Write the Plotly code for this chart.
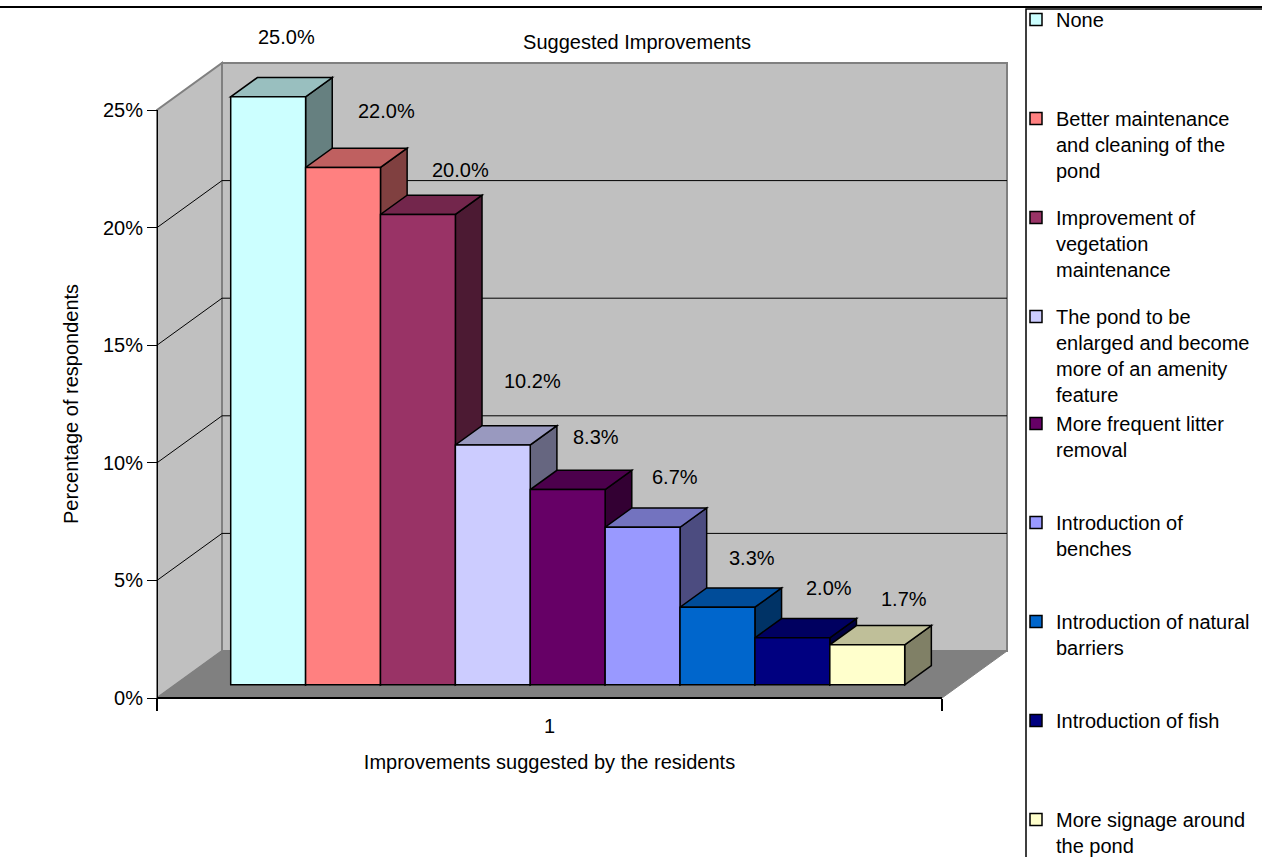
import plotly.graph_objects as go

# ---------------- data ----------------
category = ["1"]
series_names = [
    "None",
    "Better maintenance and cleaning of the pond",
    "Improvement of vegetation maintenance",
    "The pond to be enlarged and become more of an amenity feature",
    "More frequent litter removal",
    "Introduction of benches",
    "Introduction of natural barriers",
    "Introduction of fish",
    "More signage around the pond",
]
legend_text = [
    "None",
    "Better maintenance<br>and cleaning of the<br>pond",
    "Improvement of<br>vegetation<br>maintenance",
    "The pond to be<br>enlarged and become<br>more of an amenity<br>feature",
    "More frequent litter<br>removal",
    "Introduction of<br>benches",
    "Introduction of natural<br>barriers",
    "Introduction of fish",
    "More signage around<br>the pond",
]
values = [25.0, 22.0, 20.0, 10.2, 8.3, 6.7, 3.3, 2.0, 1.7]
y_tick_vals = [0, 5, 10, 15, 20, 25]
y_tick_text = ["0%", "5%", "10%", "15%", "20%", "25%"]
title_text = "Suggested Improvements"
x_title = "Improvements suggested by the residents"
y_title = "Percentage of respondents"

# ---------------- style ----------------
face_colors = ["#CCFFFF", "#FF8080", "#993366", "#CCCCFF", "#660066",
               "#9999FF", "#0066CC", "#000080", "#FFFFCC"]
legend_groups = ["g0", "g1", "g2", "g3", "g3", "g5", "g6", "g7", "g8"]
legend_lines = [3, 3, 3, 4, 3, 3, 3, 3, 2]
# label offsets (px) from the bar's front-top centre
label_shift = [(18, 60), (43, 56), (43, 44), (40, 64), (28, 53),
               (32, 50), (35, 49), (37, 50), (37, 46)]

W, H = 1262, 857
FONT = "Liberation Sans, Arial, sans-serif"
FS = 20
FX0, FY0 = 157.0, 698.0      # front-left-bottom corner of the floor (px)
FLEN = 785.0                 # front axis length (px)
S = 23.52                    # px per 1 %
DX, DY = 65.0, -47.0         # full depth vector (px, screen)
BAR_FRONT = 0.28             # depth fraction where bars begin
BAR_DEPTH = 0.41             # depth fraction of the bars
BARGAP = 0.1414
YMAX = y_tick_vals[-1]


def shade(hexcol, f):
    h = hexcol.lstrip("#")
    r, g, b = (int(h[i:i + 2], 16) for i in (0, 2, 4))
    return "#%02X%02X%02X" % (round(r * f), round(g * f), round(b * f))


def P(x, y):
    return x / W, 1 - y / H


def ppath(pts):
    s = ""
    for k, (x, y) in enumerate(pts):
        px, py = P(x, y)
        s += ("M" if k == 0 else "L") + f"{px:.5f},{py:.5f} "
    return s + "Z"


# bar-plane geometry (hidden full-frame axes x2/y2)
bx0 = FX0 + BAR_FRONT * DX
by0 = FY0 + BAR_FRONT * DY
cx = bx0 + FLEN / 2
x2_range = [(0 - cx) / FLEN, (W - cx) / FLEN]
y2_range = [(by0 - H) / S, by0 / S]
ddx = BAR_DEPTH * DX / FLEN
ddy = -BAR_DEPTH * DY / S

n = len(values)
gw = 1 - BARGAP
bw = gw / n

fig = go.Figure()

# dummy trace so the front category axis shows its tick
fig.add_trace(go.Scatter(x=category, y=[0], mode="markers",
                         marker=dict(opacity=0), showlegend=False,
                         hoverinfo="skip", xaxis="x", yaxis="y"))

for i, v in enumerate(values):
    txt = legend_text[i]
    pad = legend_lines[i] - (txt.count("<br>") + 1)
    txt = txt + "<br>\u00a0" * max(pad, 0)
    fig.add_trace(go.Bar(
        x=category, y=[v], name=txt, legendgroup=legend_groups[i],
        marker=dict(color=face_colors[i], line=dict(color="black", width=1.5)),
        xaxis="x2", yaxis="y2", hovertext=series_names[i], hoverinfo="text+y",
    ))

shapes = []
# walls and floor
top = FY0 - YMAX * S
shapes.append(dict(type="path", xref="paper", yref="paper", layer="below",
                   path=ppath([(FX0, FY0), (FX0 + DX, FY0 + DY), (FX0 + DX, top + DY), (FX0, top)]),
                   fillcolor="#C0C0C0", line=dict(color="#808080", width=2)))
shapes.append(dict(type="path", xref="paper", yref="paper", layer="below",
                   path=ppath([(FX0 + DX, FY0 + DY), (FX0 + DX + FLEN, FY0 + DY),
                               (FX0 + DX + FLEN, top + DY), (FX0 + DX, top + DY)]),
                   fillcolor="#C0C0C0", line=dict(color="#808080", width=2)))
shapes.append(dict(type="path", xref="paper", yref="paper", layer="below",
                   path=ppath([(FX0, FY0), (FX0 + FLEN, FY0), (FX0 + FLEN + DX, FY0 + DY), (FX0 + DX, FY0 + DY)]),
                   fillcolor="#808080", line=dict(color="#808080", width=1)))
for t in y_tick_vals[1:-1]:
    yy = FY0 - t * S
    x0p, y0p = P(FX0, yy)
    x1p, y1p = P(FX0 + DX, yy + DY)
    x2p, _ = P(FX0 + DX + FLEN, yy + DY)
    shapes.append(dict(type="line", xref="paper", yref="paper", layer="below",
                       x0=x0p, y0=y0p, x1=x1p, y1=y1p, line=dict(color="black", width=1)))
    shapes.append(dict(type="line", xref="paper", yref="paper", layer="below",
                       x0=x1p, y0=y1p, x1=x2p, y1=y1p, line=dict(color="black", width=1)))

# chart-area border and legend box
shapes.append(dict(type="line", xref="paper", yref="paper", layer="below",
                   x0=0, x1=1, y0=1 - 7 / H, y1=1 - 7 / H, line=dict(color="black", width=2)))
shapes.append(dict(type="rect", xref="paper", yref="paper", layer="below",
                   x0=1026 / W, x1=1.02, y0=-0.02, y1=1 - 9 / H,
                   fillcolor="white", line=dict(color="black", width=1.5)))

# 3-D faces of bars: sides first, then tops
for i, v in enumerate(values):
    xl = -gw / 2 + i * bw
    xr = xl + bw
    shapes.append(dict(type="path", xref="x2", yref="y2", layer="below",
                       path=f"M{xr},0 L{xr + ddx},{ddy} L{xr + ddx},{v + ddy} L{xr},{v} Z",
                       fillcolor=shade(face_colors[i], 0.5), line=dict(color="black", width=1.5)))
for i, v in enumerate(values):
    xl = -gw / 2 + i * bw
    xr = xl + bw
    shapes.append(dict(type="path", xref="x2", yref="y2", layer="below",
                       path=f"M{xl},{v} L{xr},{v} L{xr + ddx},{v + ddy} L{xl + ddx},{v + ddy} Z",
                       fillcolor=shade(face_colors[i], 0.75), line=dict(color="black", width=1.5)))

annotations = []
for i, v in enumerate(values):
    xc = -gw / 2 + (i + 0.5) * bw
    sx, sy = label_shift[i]
    annotations.append(dict(x=xc, y=v, xref="x2", yref="y2", text=f"{v:.1f}%",
                            showarrow=False, xshift=sx, yshift=sy,
                            xanchor="center", yanchor="middle",
                            font=dict(size=FS, color="black", family=FONT)))

fig.update_layout(
    width=W, height=H, autosize=False,
    margin=dict(l=0, r=0, t=0, b=0, pad=0),
    paper_bgcolor="white", plot_bgcolor="rgba(0,0,0,0)",
    font=dict(family=FONT, size=FS, color="black"),
    title=dict(text=title_text, x=637 / W, y=1 - 42 / H, xref="paper", yref="paper",
               xanchor="center", yanchor="middle", font=dict(size=FS, color="black")),
    barmode="group", bargap=BARGAP, bargroupgap=0,
    showlegend=True,
    legend=dict(x=1016 / W, y=1 - 12 / H, xanchor="left", yanchor="top",
                bgcolor="rgba(0,0,0,0)", borderwidth=0, font=dict(size=FS, color="black"),
                tracegroupgap=18, traceorder="grouped", valign="top", itemwidth=30),
    xaxis=dict(domain=[FX0 / W, (FX0 + FLEN) / W], type="category", range=[-0.5, 0.5],
               anchor="free", position=1 - FY0 / H, showline=True, linecolor="black",
               linewidth=1.5, ticks="outside", ticklen=12, tickwidth=1.5, tickcolor="black",
               tickson="boundaries", showgrid=False, zeroline=False, automargin=False,
               tickfont=dict(size=FS), fixedrange=True, ticklabelstandoff=10,
               title=dict(text=x_title, font=dict(size=FS), standoff=18)),
    yaxis=dict(domain=[1 - FY0 / H, 1 - top / H], range=[0, YMAX], anchor="free",
               position=FX0 / W, tickvals=y_tick_vals, ticktext=y_tick_text,
               ticks="outside", ticklen=10, tickwidth=1, tickcolor="black",
               showline=True, linecolor="black", linewidth=1, showgrid=False,
               zeroline=False, automargin=False, tickfont=dict(size=FS), fixedrange=True,
               title=dict(text=y_title, font=dict(size=FS), standoff=17)),
    xaxis2=dict(domain=[0, 1], type="category", range=x2_range, anchor="y2",
                visible=False, fixedrange=True),
    yaxis2=dict(domain=[0, 1], range=y2_range, anchor="x2", visible=False, fixedrange=True),
    shapes=shapes, annotations=annotations,
)

# let the legend run past the bottom edge (as in the reference) instead of scrolling
try:
    fig.update_layout(legend_maxheight=2000)
except Exception:
    pass

fig.write_html("out.html")
